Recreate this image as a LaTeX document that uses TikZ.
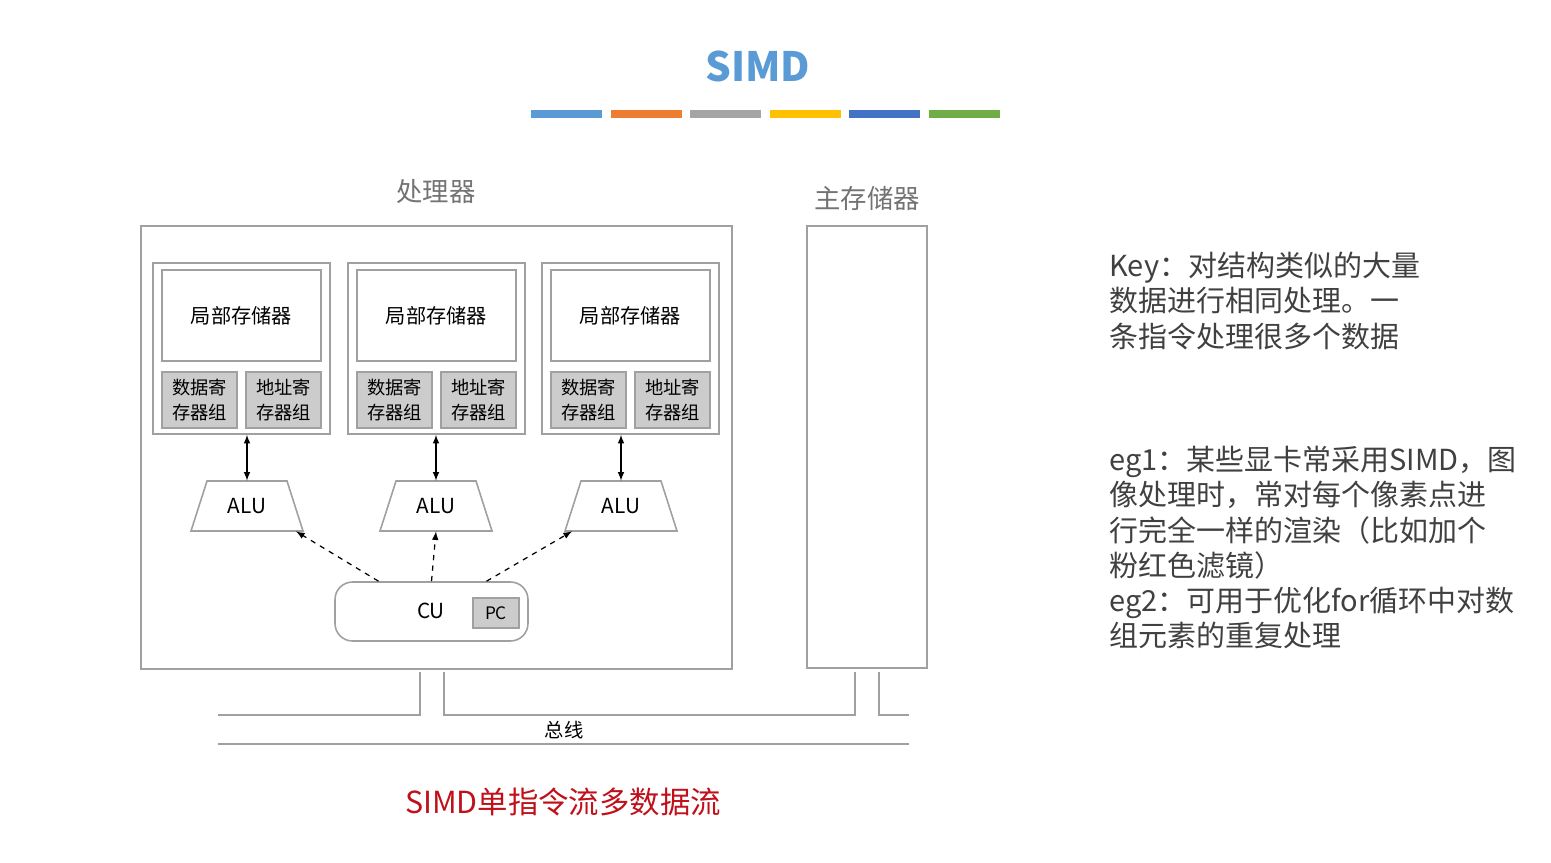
\documentclass[tikz,border=0pt]{standalone}
\usepackage{fontspec}
\setmainfont{Noto Sans CJK SC}
\usetikzlibrary{calc}

\definecolor{titleblue}{HTML}{5B9BD5}
\definecolor{barorange}{HTML}{ED7D31}
\definecolor{bargray}{HTML}{A5A5A5}
\definecolor{baryellow}{HTML}{FFC000}
\definecolor{bardark}{HTML}{4472C4}
\definecolor{bargreen}{HTML}{70AD47}
\definecolor{linegray}{HTML}{A0A0A0}
\definecolor{regfill}{HTML}{CCCCCC}
\definecolor{capred}{HTML}{C0101A}

\tikzset{
    frame/.style={draw=linegray, line width=0.9pt, inner sep=0pt},
    regbox/.style={frame, fill=regfill, minimum width=1.5cm, minimum height=1.12cm, align=center,
        font=\fontsize{10.4}{14}\selectfont},
    alubox/.style={inner sep=0pt, minimum width=2.24cm, minimum height=1cm, font=\fontsize{11.8}{13}\selectfont},
    partlabel/.style={text=black!55, font=\fontsize{15}{18}\selectfont},
    notes/.style={anchor=north west, align=left, inner sep=0pt, text=black!75,
        font=\fontsize{16.5}{20}\selectfont}
}

\begin{document}
\begin{tikzpicture}[x=0.02cm, y=-0.02cm, >=latex]
    \useasboundingbox (0,0) rectangle (1551,862);
    \node[text=titleblue, font=\fontsize{23}{28}\selectfont\bfseries] (title) at (758,66) {SIMD};
    \foreach \c [count=\k] in {titleblue,barorange,bargray,baryellow,bardark,bargreen}
        \fill[\c] ({531+(\k-1)*79.6},110) rectangle ++(71,8);

    \node[partlabel] (proclabel) at (436,192) {处理器};
    \node[partlabel] (memlabel) at (867,198) {主存储器};
    \node[frame, minimum width=11.82cm, minimum height=8.86cm] (proc) at (436.5,447.5) {};
    \node[frame, minimum width=2.4cm, minimum height=8.84cm] (mem) at (867,447) {};

    \foreach \i/\px/\ax in {1/241.5/247, 2/436.5/436, 3/630.5/621} {
        \node[frame, minimum width=3.54cm, minimum height=3.42cm] (pe\i) at (\px,348.5) {};
        \node[frame, minimum width=3.18cm, minimum height=1.82cm, font=\fontsize{11.5}{14}\selectfont] (lm\i) at (\px,315.5) {局部存储器};
        \node[regbox] (dr\i) at (\px-42,400) {数据寄\\存器组};
        \node[regbox] (ar\i) at (\px+42,400) {地址寄\\存器组};
        \node[alubox] (alu\i) at (\ax,506) {ALU};
        \draw[frame] ([shift={(-40,-25)}]alu\i.center) -- ++(80,0) -- ++(16,50) -- ++(-112,0) -- cycle;
        \draw[<->, line width=0.7pt] (alu\i.north |- pe\i.south) -- (alu\i.north);
    }

    \node[frame, rounded corners=0.35cm, minimum width=3.86cm, minimum height=1.18cm] (cu) at (431.5,611.5) {};
    \node[font=\fontsize{11.8}{13}\selectfont] (cutext) at (431,611) {CU};
    \node[regbox, minimum width=0.92cm, minimum height=0.6cm, font=\fontsize{9.8}{12}\selectfont] (pc) at (496,613) {PC};
    \draw[->, dashed, line width=0.7pt] ($(cu.north)+(-53,0)$) -- ($(alu1.south)+(49,0)$);
    \draw[->, dashed, line width=0.7pt] (cu.north) -- (alu2.south);
    \draw[->, dashed, line width=0.7pt] ($(cu.north)+(55,0)$) -- ($(alu3.south)+(-49,0)$);

    \coordinate (busL) at (218,715); \coordinate (busR) at (909,715);
    \draw[frame] (busL) -- (420,715) -- (420,672);
    \draw[frame] (444,672) -- (444,715) -- (855,715) -- (855,672);
    \draw[frame] (879,672) -- (879,715) -- (busR);
    \draw[frame] (218,744) -- (909,744);
    \node[font=\fontsize{11}{13}\selectfont] (buslabel) at (564,730) {总线};

    \node[text=capred, font=\fontsize{17.3}{20}\selectfont] (caption) at (563,802) {SIMD单指令流多数据流};

    \node[notes] (keynote) at (1109,252) {Key：对结构类似的大量\\数据进行相同处理。一\\条指令处理很多个数据};
    \node[notes] (egnote) at (1109,446) {eg1：某些显卡常采用SIMD，图\\像处理时，常对每个像素点进\\行完全一样的渲染（比如加个\\粉红色滤镜）\\eg2：可用于优化for循环中对数\\组元素的重复处理};
\end{tikzpicture}
\end{document}
